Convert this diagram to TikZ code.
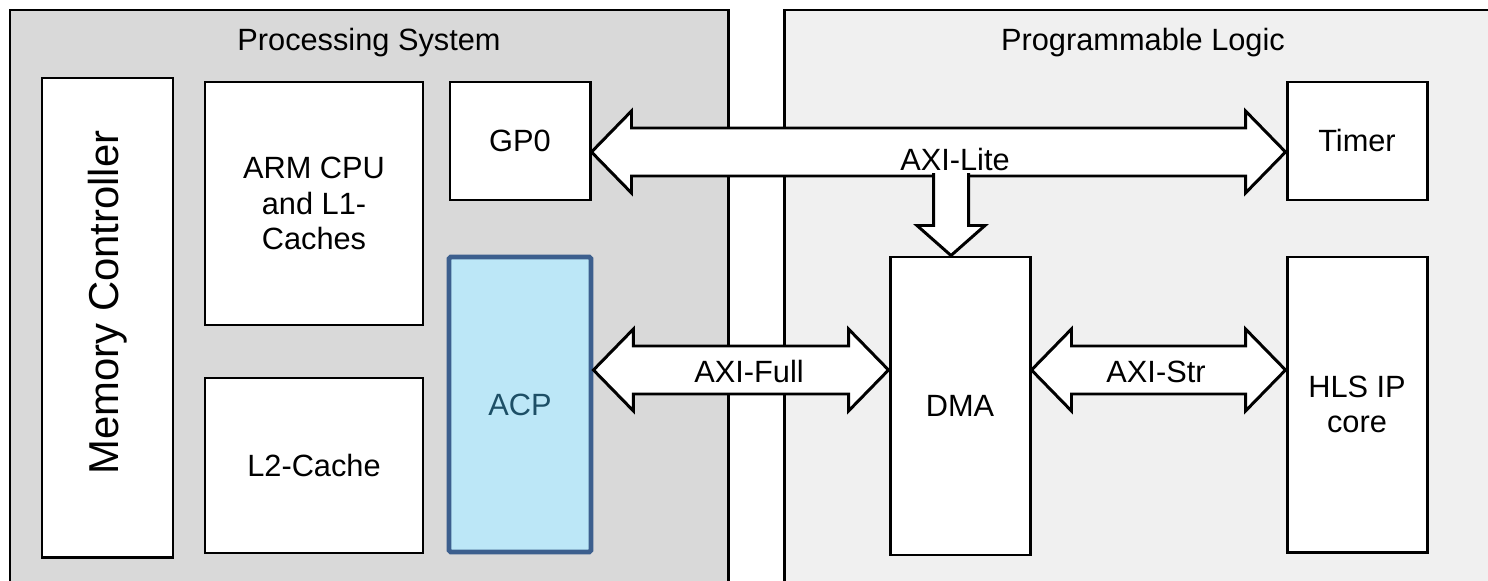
\documentclass[tikz,border=0pt]{standalone}
\usepackage{fontspec}
\setmainfont{Liberation Sans}
\usetikzlibrary{positioning,calc}

\definecolor{psgray}{HTML}{D9D9D9}
\definecolor{plgray}{HTML}{F0F0F0}
\definecolor{acpfill}{HTML}{BCE7F7}
\definecolor{acpline}{HTML}{3C5F8E}
\definecolor{acptext}{HTML}{1D4F66}

\tikzset{
  region/.style={draw=black,line width=1.7pt},
  block/.style={draw=black,fill=white,line width=1.7pt,minimum width=28mm,
    align=center,inner sep=0pt},
  bus/.style={draw=black,fill=white,line width=1.7pt,line join=miter},
}

% double block arrow between two points on one line
\newcommand{\busarrow}[2]{%
  \draw[bus] let \p1=(#1), \p2=(#2) in
    (\x1,\y1) -- (\x1+8mm,\y1+8.2mm) -- (\x1+8mm,\y1+4.8mm)
    -- (\x2-8mm,\y1+4.8mm) -- (\x2-8mm,\y1+8.2mm) -- (\x2,\y1)
    -- (\x2-8mm,\y1-8.2mm) -- (\x2-8mm,\y1-4.8mm)
    -- (\x1+8mm,\y1-4.8mm) -- (\x1+8mm,\y1-8.2mm) -- cycle;}

\begin{document}
\begin{tikzpicture}[x=0.2mm,y=-0.2mm,on grid,
    font=\fontsize{17.5pt}{20pt}\selectfont]
  \useasboundingbox (0,0) rectangle (1488,581);
  \clip (0,0) rectangle (1488,581);
  % the two halves
  \draw[region,fill=psgray] (10,10) rectangle (728,620);
  \draw[region,fill=plgray] (784,10) rectangle (1530,620);
  \node (pstitle) at (369,43) {Processing System};
  \node (pltitle) at (1143,43) {Programmable Logic};

  % processing system
  \node[block,minimum width=26.2mm,minimum height=95.8mm] (memctl) at (107.5,317.5) {};
  \node[rotate=90,font=\fontsize{23.8pt}{28pt}\selectfont] (memlbl)
    at ($(memctl)+(0,-15)$) {Memory Controller};
  \node[block,minimum width=43.6mm,minimum height=48.6mm] (cpu) at (314,203.5) {ARM CPU\\and L1-\\Caches};
  \node[block,minimum width=43.6mm,minimum height=35mm] (l2) at (314,465.5) {L2-Cache};
  \node[block,minimum height=23.6mm] (gp0) at (520,141) {GP0};
  \node[block,minimum width=28.4mm,minimum height=59mm,fill=acpfill,draw=acpline,
    line width=2.8pt,text=acptext,rounded corners=1pt] (acp) [below=52.7mm of gp0] {ACP};

  % programmable logic
  \node[block,minimum height=23.6mm] (timer) at (1357,141) {Timer};
  \node[block,minimum height=59mm] (hls) [below=52.7mm of timer] {HLS IP\\core};
  \node[block,minimum height=59.6mm] (dma) at (960,406) {DMA};

  % buses
  \coordinate (litey) at (0,152);
  \coordinate (fully) at (0,370);
  \busarrow{gp0.east |- litey}{timer.west |- litey}
  \coordinate (litetip) at ($(dma.north)+(-9,0)$);
  \fill[white] ($(litetip)+(-16,-85)$) rectangle ($(litetip)+(16,-77)$);
  \draw[bus] ($(litetip)+(-17.5,-82.5)$) -- ++(0,52.5) -- ++(-16.5,0) -- (litetip)
    -- ++(34,-30) -- ++(-16.5,0) -- ++(0,-52.5);
  \busarrow{acp.east |- fully}{dma.west |- fully}
  \busarrow{dma.east |- fully}{hls.west |- fully}

  \node (litelbl) at (955,160) {AXI-Lite};
  \node (fulllbl) at (749,372) {AXI-Full};
  \node (strlbl) at (1156,372) {AXI-Str};
\end{tikzpicture}
\end{document}
